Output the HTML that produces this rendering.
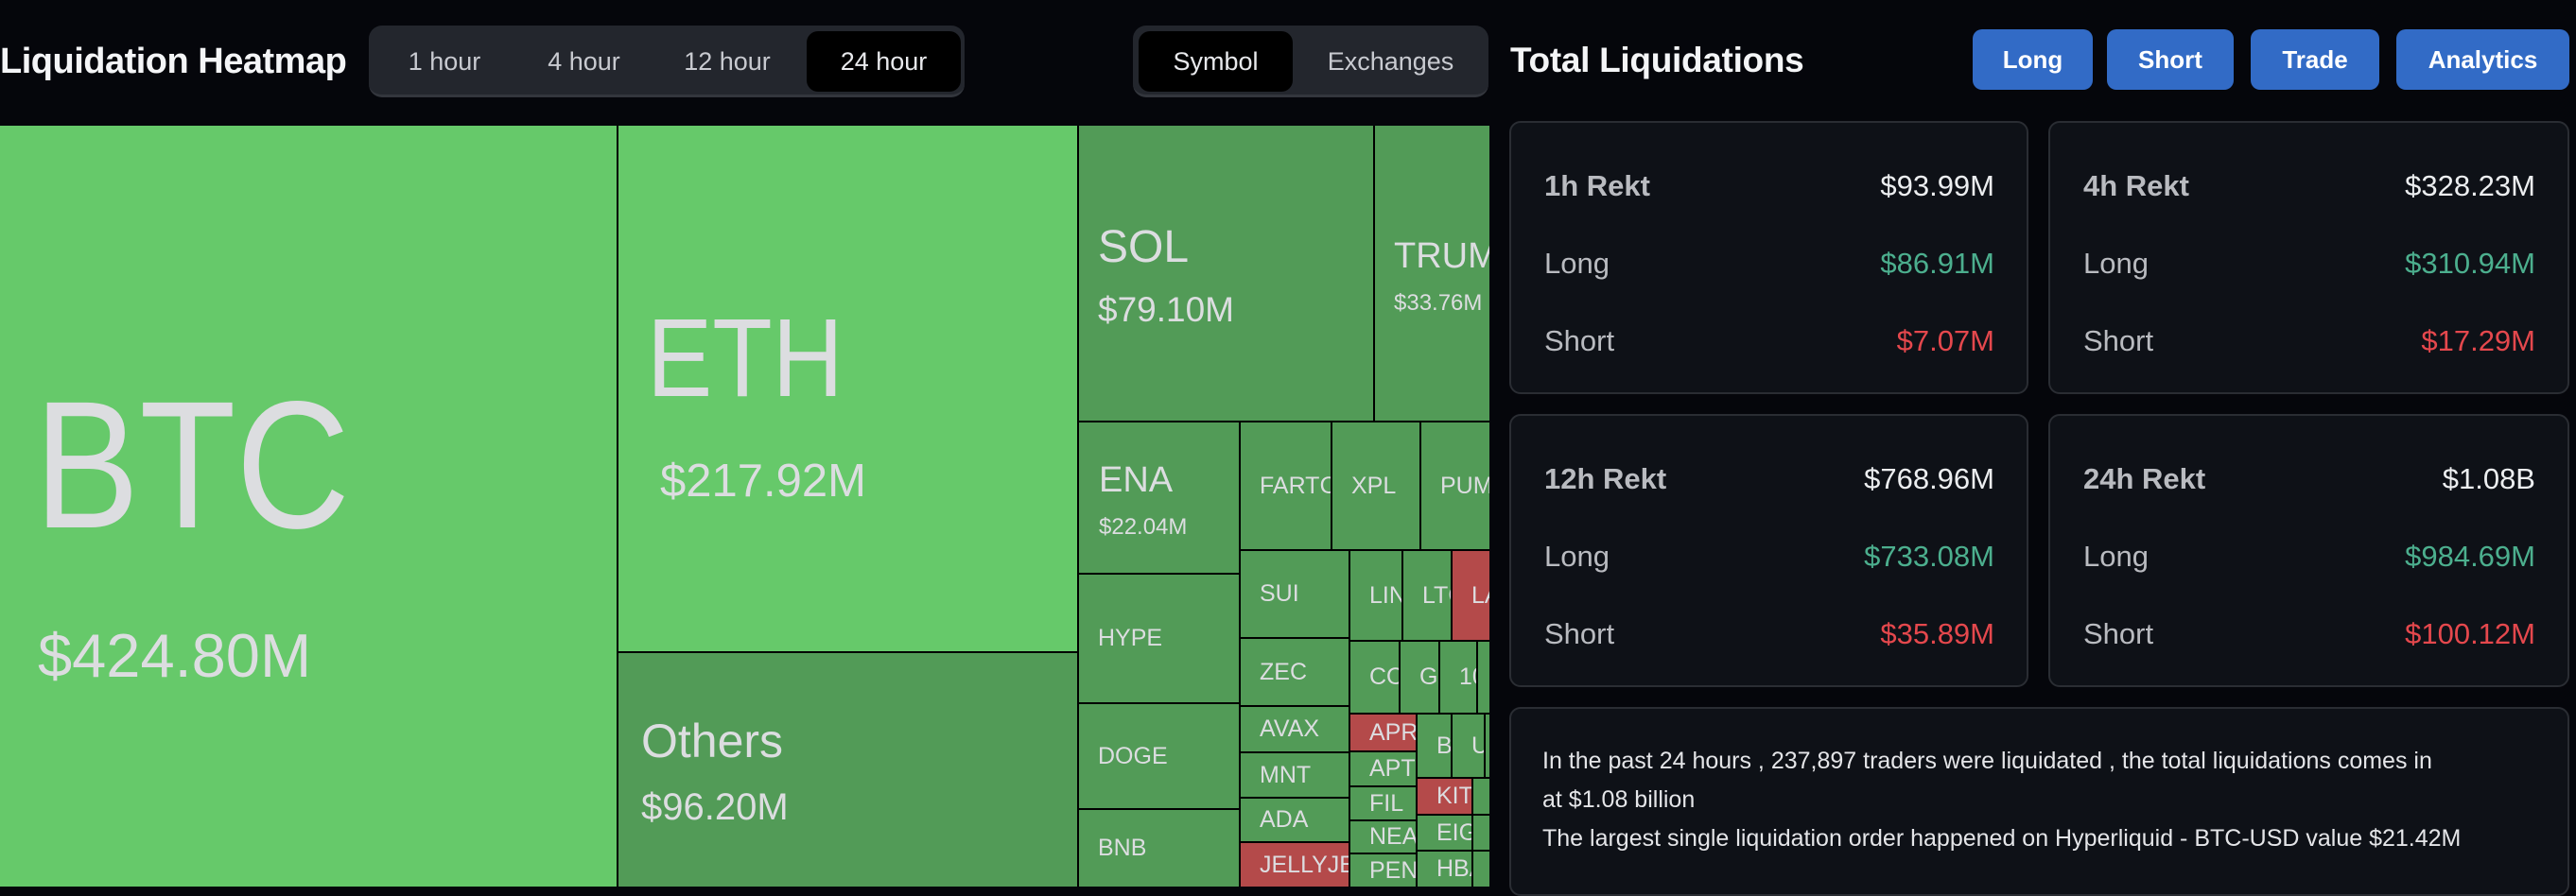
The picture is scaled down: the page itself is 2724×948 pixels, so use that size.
<!DOCTYPE html>
<html><head><meta charset="utf-8"><style>
*{margin:0;padding:0;box-sizing:border-box}
body{width:2724px;height:938px;background:#05060b;position:relative;overflow:hidden;font-family:"Liberation Sans",sans-serif;color:#dcdde0}
.a{position:absolute}
.tm{position:absolute;left:0;top:133px;width:1575px;height:805px;background:#000}
.b{position:absolute;overflow:hidden;background:#529b57;white-space:nowrap}
.lg{background:#66c96a}
.r{background:#b44a4a}
.s{display:flex;align-items:center;padding-left:20px;font-size:25px;color:#dcdde0}
.tog{position:absolute;background:#23262d;border-radius:14px;border-bottom:3px solid #33363d}
.tog span{position:absolute;top:0;height:64px;line-height:64px;font-size:27px;color:#c8cad0;text-align:center}
.act{background:#000;border-radius:12px;color:#e8e9ec!important}
.btn{position:absolute;top:31px;height:64px;background:#326bc6;border-radius:10px;color:#fff;font-weight:bold;font-size:26px;line-height:64px;text-align:center}
.card{position:absolute;background:#0e1117;border:2px solid #2a2d33;border-radius:12px}
.row{position:absolute;left:35px;right:34px;font-size:31px;display:flex;justify-content:space-between;height:40px;line-height:40px}
.row .k{color:#b9bbc0}
.g{color:#4caf8e}.rd{color:#e5484d}.w{color:#eceef0}
</style></head><body>
<div class="a" style="left:0;top:44px;font-size:38px;font-weight:bold;color:#f4f5f7;letter-spacing:-0.5px">Liquidation Heatmap</div>
<div class="tog" style="left:390px;top:27px;width:630px;height:76px">
<span style="left:0;width:160px;top:6px">1 hour</span>
<span style="left:160px;width:135px;top:6px">4 hour</span>
<span style="left:295px;width:168px;top:6px">12 hour</span>
<span class="act" style="left:463px;width:163px;top:6px">24 hour</span>
</div>
<div class="tog" style="left:1198px;top:27px;width:376px;height:76px">
<span class="act" style="left:6px;width:163px;top:6px">Symbol</span>
<span style="left:169px;width:207px;top:6px">Exchanges</span>
</div>
<div class="a" style="left:1597px;top:43px;font-size:37px;font-weight:bold;color:#f4f5f7;letter-spacing:-0.3px">Total Liquidations</div>
<div class="btn" style="left:2086px;width:127px">Long</div>
<div class="btn" style="left:2228px;width:134px">Short</div>
<div class="btn" style="left:2380px;width:136px">Trade</div>
<div class="btn" style="left:2534px;width:183px">Analytics</div>

<div class="tm"></div>
<div class="b lg" style="left:0;top:133px;width:652px;height:805px">
 <div class="a" style="left:36px;top:263px;font-size:192px;line-height:1;transform:scaleX(0.87);transform-origin:left">BTC</div>
 <div class="a" style="left:40px;top:528px;font-size:65px;line-height:1">$424.80M</div>
</div>
<div class="b lg" style="left:654px;top:133px;width:485px;height:556px">
 <div class="a" style="left:30px;top:187px;font-size:118px;line-height:1;transform:scaleX(0.88);transform-origin:left">ETH</div>
 <div class="a" style="left:44px;top:352px;font-size:49px;line-height:1">$217.92M</div>
</div>
<div class="b" style="left:654px;top:691px;width:485px;height:247px">
 <div class="a" style="left:24px;top:68px;font-size:50px;line-height:1">Others</div>
 <div class="a" style="left:24px;top:143px;font-size:40px;line-height:1">$96.20M</div>
</div>
<div class="b" style="left:1141px;top:133px;width:311px;height:312px">
 <div class="a" style="left:20px;top:105px;font-size:48px;line-height:1">SOL</div>
 <div class="a" style="left:20px;top:176px;font-size:37px;line-height:1">$79.10M</div>
</div>
<div class="b" style="left:1454px;top:133px;width:121px;height:312px">
 <div class="a" style="left:20px;top:119px;font-size:38px;line-height:1">TRUMP</div>
 <div class="a" style="left:20px;top:176px;font-size:24px;line-height:1">$33.76M</div>
</div>
<div class="b" style="left:1141px;top:447px;width:169px;height:159px">
 <div class="a" style="left:21px;top:42px;font-size:38px;line-height:1">ENA</div>
 <div class="a" style="left:21px;top:99px;font-size:24px;line-height:1">$22.04M</div>
</div>
<div class="b s" style="left:1141px;top:608px;width:169px;height:135px">HYPE</div>
<div class="b s" style="left:1141px;top:745px;width:169px;height:110px">DOGE</div>
<div class="b s" style="left:1141px;top:857px;width:169px;height:81px">BNB</div>
<div class="b s" style="left:1312px;top:447px;width:95px;height:134px">FARTCOIN</div>
<div class="b s" style="left:1409px;top:447px;width:92px;height:134px">XPL</div>
<div class="b s" style="left:1503px;top:447px;width:72px;height:134px">PUMP</div>
<div class="b s" style="left:1312px;top:583px;width:114px;height:91px">SUI</div>
<div class="b s" style="left:1312px;top:676px;width:114px;height:70px">ZEC</div>
<div class="b s" style="left:1312px;top:748px;width:114px;height:47px">AVAX</div>
<div class="b s" style="left:1312px;top:797px;width:114px;height:46px">MNT</div>
<div class="b s" style="left:1312px;top:845px;width:114px;height:45px">ADA</div>
<div class="b s r" style="left:1312px;top:892px;width:114px;height:46px">JELLYJELLY</div>
<div class="b s" style="left:1428px;top:583px;width:54px;height:94px">LINK</div>
<div class="b s" style="left:1484px;top:583px;width:50px;height:94px">LTC</div>
<div class="b s r" style="left:1536px;top:583px;width:39px;height:94px">LA</div>
<div class="b s" style="left:1428px;top:679px;width:51px;height:75px">COMP</div>
<div class="b s" style="left:1481px;top:679px;width:40px;height:75px">GIGA</div>
<div class="b s" style="left:1523px;top:679px;width:38px;height:75px">1000</div>
<div class="b" style="left:1563px;top:679px;width:12px;height:75px"></div>
<div class="b s r" style="left:1428px;top:756px;width:69px;height:38px">APR</div>
<div class="b s" style="left:1428px;top:796px;width:69px;height:35px">APT</div>
<div class="b s" style="left:1428px;top:833px;width:69px;height:34px">FIL</div>
<div class="b s" style="left:1428px;top:869px;width:69px;height:33px">NEAR</div>
<div class="b s" style="left:1428px;top:904px;width:69px;height:34px">PENGU</div>
<div class="b s" style="left:1499px;top:756px;width:35px;height:66px">B</div>
<div class="b s" style="left:1536px;top:756px;width:33px;height:66px">U</div>
<div class="b" style="left:1571px;top:756px;width:4px;height:66px"></div>
<div class="b s r" style="left:1499px;top:824px;width:57px;height:37px">KITE</div>
<div class="b" style="left:1558px;top:824px;width:17px;height:37px"></div>
<div class="b s" style="left:1499px;top:863px;width:57px;height:36px">EIGEN</div>
<div class="b" style="left:1558px;top:863px;width:17px;height:36px"></div>
<div class="b s" style="left:1499px;top:901px;width:57px;height:37px">HBAR</div>
<div class="b" style="left:1558px;top:901px;width:17px;height:37px"></div>

<div class="card" style="left:1596px;top:128px;width:549px;height:289px">
 <div class="row" style="top:47px"><span class="k" style="font-weight:bold">1h Rekt</span><span class="w">$93.99M</span></div>
 <div class="row" style="top:129px"><span class="k">Long</span><span class="g">$86.91M</span></div>
 <div class="row" style="top:211px"><span class="k">Short</span><span class="rd">$7.07M</span></div>
</div>
<div class="card" style="left:2166px;top:128px;width:551px;height:289px">
 <div class="row" style="top:47px"><span class="k" style="font-weight:bold">4h Rekt</span><span class="w">$328.23M</span></div>
 <div class="row" style="top:129px"><span class="k">Long</span><span class="g">$310.94M</span></div>
 <div class="row" style="top:211px"><span class="k">Short</span><span class="rd">$17.29M</span></div>
</div>
<div class="card" style="left:1596px;top:438px;width:549px;height:289px">
 <div class="row" style="top:47px"><span class="k" style="font-weight:bold">12h Rekt</span><span class="w">$768.96M</span></div>
 <div class="row" style="top:129px"><span class="k">Long</span><span class="g">$733.08M</span></div>
 <div class="row" style="top:211px"><span class="k">Short</span><span class="rd">$35.89M</span></div>
</div>
<div class="card" style="left:2166px;top:438px;width:551px;height:289px">
 <div class="row" style="top:47px"><span class="k" style="font-weight:bold">24h Rekt</span><span class="w">$1.08B</span></div>
 <div class="row" style="top:129px"><span class="k">Long</span><span class="g">$984.69M</span></div>
 <div class="row" style="top:211px"><span class="k">Short</span><span class="rd">$100.12M</span></div>
</div>
<div class="card" style="left:1596px;top:748px;width:1121px;height:200px">
 <div class="a" style="left:33px;top:35px;font-size:25px;line-height:41px;color:#e4e5e8">In the past 24 hours , 237,897 traders were liquidated , the total liquidations comes in<br>at $1.08 billion<br>The largest single liquidation order happened on Hyperliquid - BTC-USD value $21.42M</div>
</div>
</body></html>
